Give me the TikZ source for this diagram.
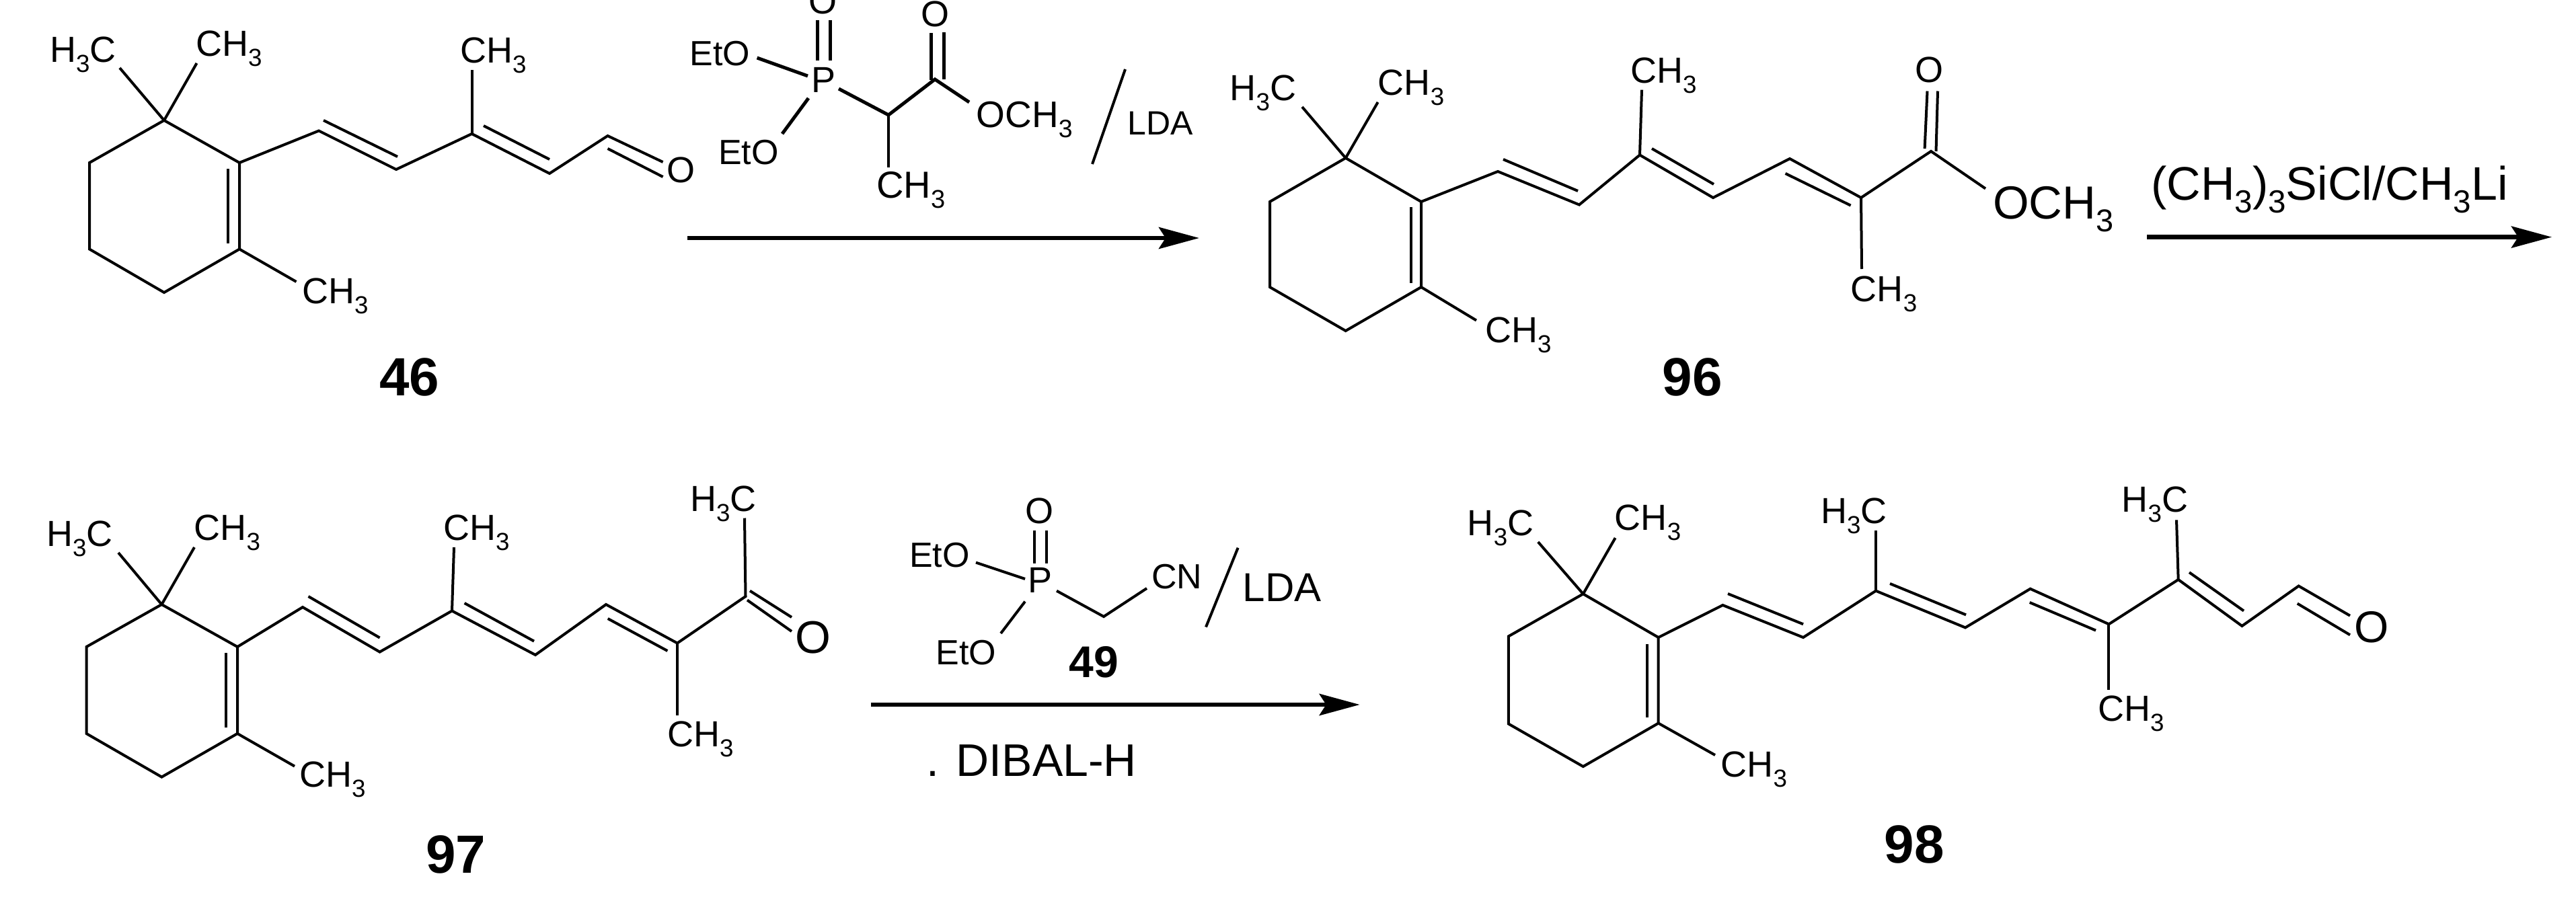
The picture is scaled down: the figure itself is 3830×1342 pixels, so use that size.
\documentclass[tikz,border=0pt]{standalone}
\usepackage{fontspec}
\setmainfont{Liberation Sans}
\usetikzlibrary{arrows.meta}
\newcommand{\low}[1]{\raisebox{-.28em}{\scalebox{.68}{#1}}}

\begin{document}
\begin{tikzpicture}[x=1pt, y=-1pt, fs/.style={font=\fontsize{#1}{#1}\selectfont}]

\tikzstyle{lbl}=[inner sep=0, anchor=base west, fs=54]
\tikzstyle{atm}=[inner sep=0, anchor=center, fs=54]
\tikzstyle{num}=[inner sep=0, anchor=center, font=\fontsize{80}{80}\selectfont\bfseries]
\tikzstyle{bnd}=[draw, line width=4pt]
\tikzstyle{thk}=[draw, line width=5pt]
\tikzstyle{arr}=[draw, line width=6.5pt, -{Stealth[length=60pt, width=32pt, inset=10pt]}]

\useasboundingbox (0,0) rectangle (3830,1342);

% compound 46
\coordinate (a1) at (244,179);   \coordinate (a2) at (133,242);   \coordinate (a3) at (133,370.5);
\coordinate (a4) at (244,435);   \coordinate (a5) at (356,370.5); \coordinate (a6) at (356,242);
\coordinate (a7) at (474,194.5); \coordinate (a8) at (589,252);   \coordinate (a9) at (701.5,199);
\coordinate (a10) at (817,258);  \coordinate (a11) at (903.5,202);
\coordinate (ai1) at (339,251);  \coordinate (ai2) at (339,362);
\coordinate (ai3) at (481,179);  \coordinate (ai4) at (591,233);
\coordinate (ai5) at (719,187);  \coordinate (ai6) at (817,237);
\coordinate (ao1) at (985.6,241); \coordinate (ao2) at (903.5,221); \coordinate (ao3) at (985.6,263);
\coordinate (am1) at (178,101);  \coordinate (am2) at (292.5,94);
\coordinate (am3) at (701.5,104); \coordinate (am4) at (440.5,419);
\node (aHC)  [lbl] at (74,92) {H\low{3}C};
\node (aCH)  [lbl] at (291,83) {CH\low{3}};
\node (aCHb) [lbl] at (684,93) {CH\low{3}};
\node (aCHc) [lbl] at (449,451) {CH\low{3}};
\node (aO)   [atm] at (1012,253) {O};
\node (a46)  [num] at (609,561) {46};
\path [bnd] (a1) -- (a2) -- (a3) -- (a4) -- (a5) -- (a6) -- cycle;
\path [bnd] (a6) -- (a7) -- (a8) -- (a9) -- (a10) -- (a11) -- (ao1);
\path [bnd] (ai1) -- (ai2);
\path [bnd] (ai3) -- (ai4);
\path [bnd] (ai5) -- (ai6);
\path [bnd] (ao2) -- (ao3);
\path [bnd] (a1) -- (am1);
\path [bnd] (a1) -- (am2);
\path [bnd] (a9) -- (am3);
\path [bnd] (a5) -- (am4);

% first phosphonate
\coordinate (p1) at (1321,171);    \coordinate (p2) at (1390,118);
\coordinate (pa) at (1215.6,30);   \coordinate (pb) at (1215.6,90);
\coordinate (pc) at (1234.7,30);   \coordinate (pd) at (1234.7,90);
\coordinate (pe) at (1125.6,86);   \coordinate (pf) at (1201,113);
\coordinate (pg) at (1202,146);    \coordinate (ph) at (1163,199);
\coordinate (pi) at (1247,132);    \coordinate (pj) at (1321,249);
\coordinate (pk) at (1384,119);    \coordinate (pl) at (1384,49);
\coordinate (pm) at (1403,118);    \coordinate (pn) at (1403,48);
\coordinate (po) at (1441,152);
\coordinate (sa) at (1673,103);    \coordinate (sb) at (1624,244);
\node (pP)   [atm] at (1224.5,119) {P};
\node (pOa)  [atm] at (1223,2) {O};
\node (pOb)  [atm] at (1390,21) {O};
\node (pEa)  [lbl, fs=52] at (1025.5,97.5) {EtO};
\node (pEb)  [lbl, fs=52] at (1068,244.5) {EtO};
\node (pOC)  [lbl, fs=55] at (1451.5,189) {OCH\low{3}};
\node (pCH)  [lbl, fs=56] at (1303,294) {CH\low{3}};
\node (pLDA) [lbl, fs=50] at (1676,200) {LDA};
\path [thk] (pa) -- (pb);
\path [thk] (pc) -- (pd);
\path [thk] (pe) -- (pf);
\path [thk] (pg) -- (ph);
\path [thk] (pi) -- (p1) -- (p2) -- (po);
\path [bnd] (p1) -- (pj);
\path [thk] (pk) -- (pl);
\path [thk] (pm) -- (pn);
\path [bnd] (sa) -- (sb);

\coordinate (ar1a) at (1022,354);
\coordinate (ar1b) at (1783,354);
\path [arr] (ar1a) -- (ar1b);

% compound 96
\coordinate (b1) at (2000.7,235); \coordinate (b2) at (1888,300);   \coordinate (b3) at (1888,427);
\coordinate (b4) at (2000.7,492); \coordinate (b5) at (2113,427);   \coordinate (b6) at (2113,300);
\coordinate (b7) at (2227,255);   \coordinate (b8) at (2348,304.5); \coordinate (b9) at (2438,230.5);
\coordinate (b10) at (2547,294);  \coordinate (b11) at (2661,236);  \coordinate (b12) at (2767,294);
\coordinate (b13) at (2871,225);
\coordinate (bi1) at (2098,308);  \coordinate (bi2) at (2098,421);
\coordinate (bi3) at (2235,237);  \coordinate (bi4) at (2346,284);
\coordinate (bi5) at (2456,221);  \coordinate (bi6) at (2548,274);
\coordinate (bi7) at (2654.5,258); \coordinate (bi8) at (2751.6,305.6);
\coordinate (bo1) at (2861.6,221); \coordinate (bo2) at (2865.5,135.5);
\coordinate (bo3) at (2878.5,225); \coordinate (bo4) at (2881,135.5);
\coordinate (bo5) at (2952,280.5);
\coordinate (bm1) at (1936,159);  \coordinate (bm2) at (2048.6,152);
\coordinate (bm3) at (2441,133.6); \coordinate (bm4) at (2768,400);
\coordinate (bm5) at (2195,476.5);
\node (bHC)  [lbl] at (1828.5,149) {H\low{3}C};
\node (bCH)  [lbl] at (2048.6,141) {CH\low{3}};
\node (bCHb) [lbl] at (2424,123) {CH\low{3}};
\node (bCHc) [lbl] at (2751.6,448) {CH\low{3}};
\node (bCHd) [lbl] at (2208,509) {CH\low{3}};
\node (bOC)  [lbl, fs=69] at (2963,325) {OCH\low{3}};
\node (bO)   [atm] at (2868,104) {O};
\node (b96)  [num] at (2516,560.5) {96};
\path [bnd] (b1) -- (b2) -- (b3) -- (b4) -- (b5) -- (b6) -- cycle;
\path [bnd] (b6) -- (b7) -- (b8) -- (b9) -- (b10) -- (b11) -- (b12) -- (b13) -- (bo5);
\path [bnd] (bi1) -- (bi2);
\path [bnd] (bi3) -- (bi4);
\path [bnd] (bi5) -- (bi6);
\path [bnd] (bi7) -- (bi8);
\path [bnd] (bo1) -- (bo2);
\path [bnd] (bo3) -- (bo4);
\path [bnd] (b1) -- (bm1);
\path [bnd] (b1) -- (bm2);
\path [bnd] (b9) -- (bm3);
\path [bnd] (b12) -- (bm4);
\path [bnd] (b5) -- (bm5);

\node (tms) [lbl, fs=70] at (3198,297) {(CH\low{3})\low{3}SiCl/CH\low{3}Li};
\coordinate (ar2a) at (3192,352.6);
\coordinate (ar2b) at (3794,352.6);
\path [arr] (ar2a) -- (ar2b);

% compound 97
\coordinate (c1) at (240.4,899);   \coordinate (c2) at (128.5,962);  \coordinate (c3) at (128.5,1091);
\coordinate (c4) at (240.4,1155.6); \coordinate (c5) at (353,1091);  \coordinate (c6) at (353,962);
\coordinate (c7) at (450,903);     \coordinate (c8) at (564.6,969.6); \coordinate (c9) at (672,908.5);
\coordinate (c10) at (796,974);    \coordinate (c11) at (901,899);   \coordinate (c12) at (1007,956.5);
\coordinate (c13) at (1108.5,887);
\coordinate (ci1) at (336,971);    \coordinate (ci2) at (336,1082);
\coordinate (ci3) at (458.5,887);  \coordinate (ci4) at (564.6,948.5);
\coordinate (ci5) at (690.6,897);  \coordinate (ci6) at (794,953.6);
\coordinate (ci7) at (903.7,920);  \coordinate (ci8) at (992.4,968);
\coordinate (co1) at (1115,878.7); \coordinate (co2) at (1177,918);
\coordinate (co3) at (1111,892.5); \coordinate (co4) at (1177,939);
\coordinate (cm1) at (176,822);    \coordinate (cm2) at (289,814);
\coordinate (cm3) at (675,814);    \coordinate (cm4) at (1107,770.5);
\coordinate (cm5) at (1007,1064);  \coordinate (cm6) at (438,1139.6);
\node (cHC)  [lbl] at (69,812) {H\low{3}C};
\node (cCH)  [lbl] at (288.5,803) {CH\low{3}};
\node (cCHb) [lbl] at (659,803) {CH\low{3}};
\node (cHCb) [lbl] at (1026,760) {H\low{3}C};
\node (cCHc) [lbl] at (992,1110.5) {CH\low{3}};
\node (cCHd) [lbl] at (445,1170) {CH\low{3}};
\node (cO)   [atm, fs=68] at (1209,948.5) {O};
\node (c97)  [num] at (678,1271) {97};
\path [bnd] (c1) -- (c2) -- (c3) -- (c4) -- (c5) -- (c6) -- cycle;
\path [bnd] (c6) -- (c7) -- (c8) -- (c9) -- (c10) -- (c11) -- (c12) -- (c13) -- (cm4);
\path [bnd] (ci1) -- (ci2);
\path [bnd] (ci3) -- (ci4);
\path [bnd] (ci5) -- (ci6);
\path [bnd] (ci7) -- (ci8);
\path [bnd] (co1) -- (co2);
\path [bnd] (co3) -- (co4);
\path [bnd] (c1) -- (cm1);
\path [bnd] (c1) -- (cm2);
\path [bnd] (c9) -- (cm3);
\path [bnd] (c12) -- (cm5);
\path [bnd] (c5) -- (cm6);

% second phosphonate
\coordinate (q1) at (1641,917);
\coordinate (qa) at (1538,789.4);  \coordinate (qb) at (1538,838);
\coordinate (qc) at (1556,789.4);  \coordinate (qd) at (1556,838);
\coordinate (qe) at (1451,836.6);  \coordinate (qf) at (1524,861);
\coordinate (qg) at (1524,894.6);  \coordinate (qh) at (1488,942);
\coordinate (qi) at (1571,878.7);  \coordinate (qj) at (1705,875);
\coordinate (ta) at (1840.6,814.7); \coordinate (tb) at (1793,932.5);
\node (qP)   [atm] at (1546.6,863) {P};
\node (qO)   [atm] at (1545,760) {O};
\node (qEa)  [lbl, fs=52] at (1352,843.5) {EtO};
\node (qEb)  [lbl, fs=52] at (1391.6,988) {EtO};
\node (qCN)  [lbl, fs=52] at (1712,875) {CN};
\node (qLDA) [lbl, fs=60] at (1847.6,894) {LDA};
\node (q49)  [num, font=\fontsize{66}{66}\selectfont\bfseries] at (1626,985) {49};
\node (qDI)  [lbl, fs=68] at (1377.5,1154) {. DIBAL-H};
\path [bnd] (qa) -- (qb);
\path [bnd] (qc) -- (qd);
\path [bnd] (qe) -- (qf);
\path [bnd] (qg) -- (qh);
\path [bnd] (qi) -- (q1) -- (qj);
\path [bnd] (ta) -- (tb);

\coordinate (ar3a) at (1294.6,1048);
\coordinate (ar3b) at (2021.7,1048);
\path [arr] (ar3a) -- (ar3b);

% compound 98
\coordinate (d1) at (2353.8,883.3); \coordinate (d2) at (2242.8,946.4); \coordinate (d3) at (2242.8,1076.5);
\coordinate (d4) at (2353.8,1140);  \coordinate (d5) at (2465.7,1075.6); \coordinate (d6) at (2465.7,948);
\coordinate (d7) at (2561.4,900);   \coordinate (d8) at (2681,948);     \coordinate (d9) at (2789,878.7);
\coordinate (d10) at (2922,933.4);  \coordinate (d11) at (3018.6,875.7); \coordinate (d12) at (3135.4,928.3);
\coordinate (d13) at (3238.7,862);  \coordinate (d14) at (3333.4,931);  \coordinate (d15) at (3417.6,871.5);
\coordinate (di1) at (2448.5,957.8); \coordinate (di2) at (2448.5,1067);
\coordinate (di3) at (2569,883);    \coordinate (di4) at (2681,928.3);
\coordinate (di5) at (2810,868);    \coordinate (di6) at (2923,914.4);
\coordinate (di7) at (3017.7,896);  \coordinate (di8) at (3116,937.6);
\coordinate (di9) at (3255,851.3);  \coordinate (di10) at (3336,908.5);
\coordinate (do1) at (3494,915.7);  \coordinate (do2) at (3415.7,897.6); \coordinate (do3) at (3494,944.3);
\coordinate (dm1) at (2286.8,806);  \coordinate (dm2) at (2401.6,800);
\coordinate (dm3) at (2789,789.4);  \coordinate (dm4) at (3236,773.4);
\coordinate (dm5) at (3135.4,1026); \coordinate (dm6) at (2550,1123);
\node (dHC)  [lbl] at (2181.6,796.5) {H\low{3}C};
\node (dCH)  [lbl] at (2400.6,788) {CH\low{3}};
\node (dHCb) [lbl] at (2706.8,778) {H\low{3}C};
\node (dHCc) [lbl] at (3154.5,761.5) {H\low{3}C};
\node (dCHb) [lbl] at (3119,1072) {CH\low{3}};
\node (dCHc) [lbl] at (2558.5,1155.5) {CH\low{3}};
\node (dO)   [atm, fs=66] at (3525.7,932.5) {O};
\node (d98)  [num] at (2846.4,1255.8) {98};
\path [bnd] (d1) -- (d2) -- (d3) -- (d4) -- (d5) -- (d6) -- cycle;
\path [bnd] (d6) -- (d7) -- (d8) -- (d9) -- (d10) -- (d11) -- (d12) -- (d13) -- (d14) -- (d15) -- (do1);
\path [bnd] (di1) -- (di2);
\path [bnd] (di3) -- (di4);
\path [bnd] (di5) -- (di6);
\path [bnd] (di7) -- (di8);
\path [bnd] (di9) -- (di10);
\path [bnd] (do2) -- (do3);
\path [bnd] (d1) -- (dm1);
\path [bnd] (d1) -- (dm2);
\path [bnd] (d9) -- (dm3);
\path [bnd] (d13) -- (dm4);
\path [bnd] (d12) -- (dm5);
\path [bnd] (d5) -- (dm6);

\end{tikzpicture}
\end{document}
